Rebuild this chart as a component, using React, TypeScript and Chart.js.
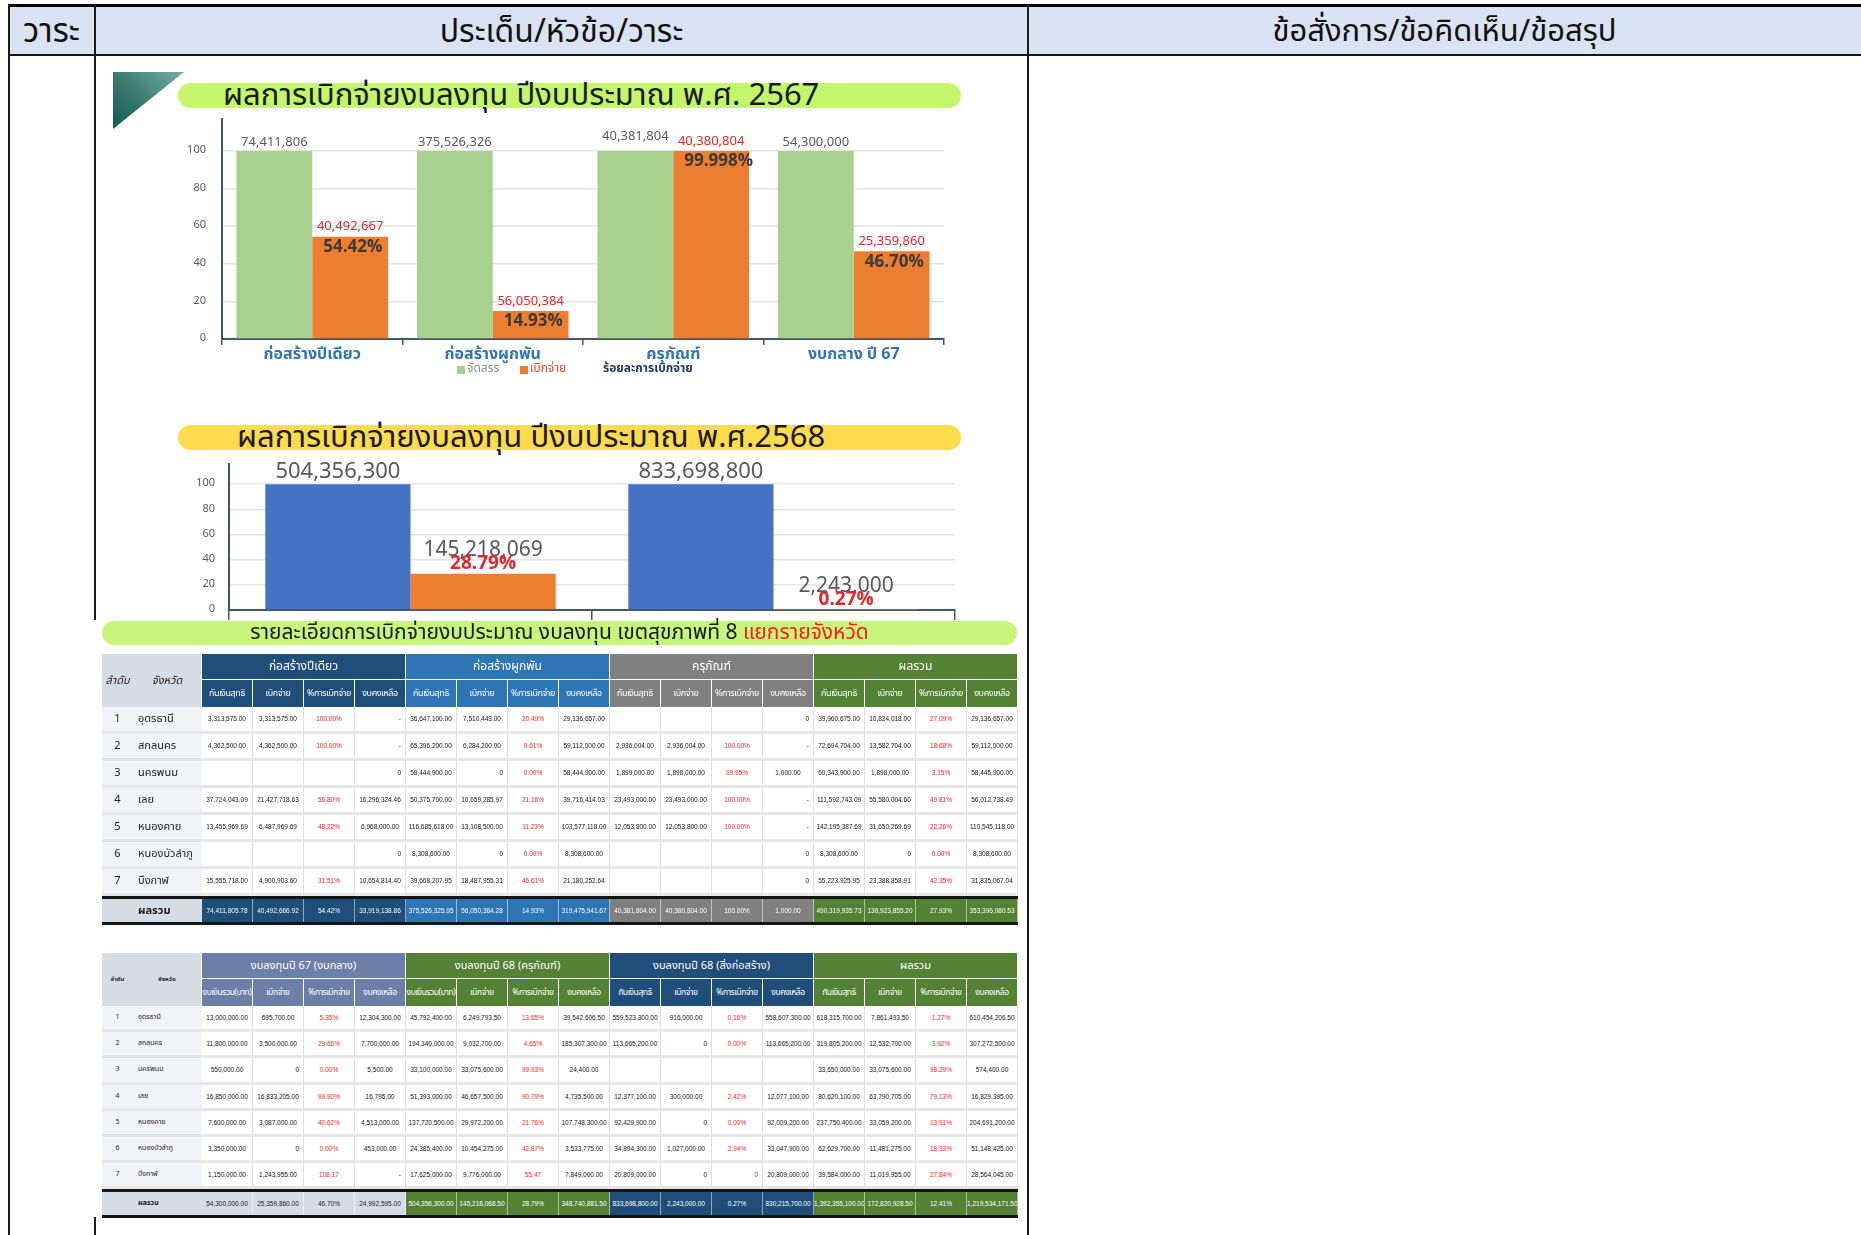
import React, { useEffect, useRef } from 'react';
import { Chart, registerables } from 'chart.js';
Chart.register(...registerables);

const FONT = '"Noto Sans Thai", "Noto Sans", "Liberation Sans", sans-serif';
const NUMFONT = '"Liberation Sans", "Noto Sans", sans-serif';

// ---------- Chart 1 (2567) ----------
const cat2567 = ['ก่อสร้างปีเดียว', 'ก่อสร้างผูกพัน', 'ครุภัณฑ์', 'งบกลาง ปี 67'];
const alloc2567 = [74411806, 375526326, 40381804, 54300000];
const spent2567 = [40492667, 56050384, 40380804, 25359860];
const allocPct2567 = [100, 100, 100, 100];
const spentPct2567 = [54.42, 14.93, 99.998, 46.7];
const spentPctText2567 = ['54.42%', '14.93%', '99.998%', '46.70%'];
const legend2567 = ['จัดสรร', 'เบิกจ่าย', 'ร้อยละการเบิกจ่าย'];
const yTicks = [0, 20, 40, 60, 80, 100];

// ---------- Chart 2 (2568) ----------
const cat2568 = ['ครุภัณฑ์', 'สิ่งก่อสร้าง'];
const alloc2568 = [504356300, 833698800];
const spent2568 = [145218069, 2243000];
const allocPct2568 = [100, 100];
const spentPct2568 = [28.79, 0.27];
const spentPctText2568 = ['28.79%', '0.27%'];

// ---------- Table 1 ----------
const t1Groups = ['ก่อสร้างปีเดียว', 'ก่อสร้างผูกพัน', 'ครุภัณฑ์', 'ผลรวม'];
const t1Subs = ['กันเงินสุทธิ', 'เบิกจ่าย', '%การเบิกจ่าย', 'งบคงเหลือ'];
const provinces = ['อุดรธานี', 'สกลนคร', 'นครพนม', 'เลย', 'หนองคาย', 'หนองบัวลำภู', 'บึงกาฬ'];
const t1Rows = [
  ['3,313,575.00', '3,313,575.00', '100.00%', '-', '36,647,100.00', '7,510,443.00', '20.49%', '29,136,657.00', '', '', '', '0', '39,960,675.00', '10,824,018.00', '27.09%', '29,136,657.00'],
  ['4,362,500.00', '4,362,500.00', '100.00%', '-', '65,396,200.00', '6,284,200.00', '9.61%', '59,112,000.00', '2,936,004.00', '2,936,004.00', '100.00%', '-', '72,694,704.00', '13,582,704.00', '18.68%', '59,112,000.00'],
  ['', '', '', '0', '58,444,900.00', '0', '0.00%', '58,444,900.00', '1,899,000.00', '1,898,000.00', '99.95%', '1,000.00', '60,343,900.00', '1,898,000.00', '3.15%', '58,445,900.00'],
  ['37,724,043.09', '21,427,718.63', '56.80%', '16,296,324.46', '50,375,700.00', '10,659,285.97', '21.16%', '39,716,414.03', '23,493,000.00', '23,493,000.00', '100.00%', '-', '111,592,743.09', '55,580,004.60', '49.81%', '56,012,738.49'],
  ['13,455,969.69', '6,487,969.69', '48.22%', '6,968,000.00', '116,685,618.00', '13,108,500.00', '11.23%', '103,577,118.00', '12,053,800.00', '12,053,800.00', '100.00%', '-', '142,195,387.69', '31,650,269.69', '22.26%', '110,545,118.00'],
  ['', '', '', '0', '8,308,600.00', '0', '0.00%', '8,308,600.00', '', '', '', '0', '8,308,600.00', '0', '0.00%', '8,308,600.00'],
  ['15,555,718.00', '4,900,903.60', '31.51%', '10,654,814.40', '39,668,207.95', '18,487,955.31', '46.61%', '21,180,252.64', '', '', '', '0', '55,223,925.95', '23,388,858.91', '42.35%', '31,835,067.04'],
];
const t1Total = ['74,411,805.78', '40,492,666.92', '54.42%', '33,919,138.86', '375,526,325.95', '56,050,384.28', '14.93%', '319,475,941.67', '40,381,804.00', '40,380,804.00', '100.00%', '1,000.00', '490,319,935.73', '136,923,855.20', '27.93%', '353,396,080.53'];

// ---------- Table 2 ----------
const t2Groups = ['งบลงทุนปี 67 (งบกลาง)', 'งบลงทุนปี 68 (ครุภัณฑ์)', 'งบลงทุนปี 68 (สิ่งก่อสร้าง)', 'ผลรวม'];
const t2SubsA = ['งบเงินรวม(บาท)', 'เบิกจ่าย', '%การเบิกจ่าย', 'งบคงเหลือ'];
const t2SubsB = ['กันเงินสุทธิ', 'เบิกจ่าย', '%การเบิกจ่าย', 'งบคงเหลือ'];
const t2Rows = [
  ['13,000,000.00', '695,700.00', '5.35%', '12,304,300.00', '45,792,400.00', '6,249,793.50', '13.65%', '39,542,606.50', '559,523,300.00', '916,000.00', '0.16%', '558,607,300.00', '618,315,700.00', '7,861,493.50', '1.27%', '610,454,206.50'],
  ['11,800,000.00', '3,500,000.00', '29.66%', '7,700,000.00', '194,340,000.00', '9,032,700.00', '4.65%', '185,307,300.00', '113,665,200.00', '0', '0.00%', '113,665,200.00', '319,805,200.00', '12,532,700.00', '3.92%', '307,272,500.00'],
  ['550,000.00', '0', '0.00%', '5,500.00', '33,100,000.00', '33,075,600.00', '99.93%', '24,400.00', '', '', '', '', '33,650,000.00', '33,075,600.00', '98.29%', '574,400.00'],
  ['16,850,000.00', '16,833,205.00', '99.90%', '16,795.00', '51,393,000.00', '46,657,500.00', '90.79%', '4,735,500.00', '12,377,100.00', '300,000.00', '2.42%', '12,077,100.00', '80,620,100.00', '63,790,705.00', '79.13%', '16,829,395.00'],
  ['7,600,000.00', '3,087,000.00', '40.62%', '4,513,000.00', '137,720,500.00', '29,972,200.00', '21.76%', '107,748,300.00', '92,429,900.00', '0', '0.00%', '92,009,200.00', '237,750,400.00', '33,059,200.00', '13.91%', '204,691,200.00'],
  ['3,350,000.00', '0', '0.00%', '453,000.00', '24,385,400.00', '10,454,275.00', '42.87%', '3,533,775.00', '34,894,300.00', '1,027,000.00', '2.94%', '33,047,900.00', '62,629,700.00', '11,481,275.00', '18.33%', '51,148,425.00'],
  ['1,150,000.00', '1,243,955.00', '108.17', '-', '17,625,000.00', '9,776,000.00', '55.47', '7,849,000.00', '20,809,000.00', '0', '0', '20,809,000.00', '39,584,000.00', '11,019,955.00', '27.84%', '28,564,045.00'],
];
const t2Total = ['54,300,000.00', '25,359,860.00', '46.70%', '24,992,595.00', '504,356,300.00', '145,218,068.50', '28.79%', '348,740,881.50', '833,698,800.00', '2,243,000.00', '0.27%', '830,215,700.00', '1,392,355,100.00', '172,820,928.50', '12.41%', '1,219,534,171.50'];

const fmt = (n: number) => n.toLocaleString('en-US');

const noPad = (s: any) => { s.paddingTop = 0; s.paddingBottom = 0; s.paddingLeft = 0; s.paddingRight = 0; };

const labels1 = {
  id: 'labels1',
  afterDatasetsDraw(chart: any) {
    const ctx = chart.ctx;
    const g = chart.getDatasetMeta(0).data;
    const o = chart.getDatasetMeta(1).data;
    ctx.save();
    ctx.textBaseline = 'middle';
    g.forEach((bar: any, i: number) => {
      const ob = o[i];
      const raise = Math.abs(ob.y - bar.y) < 14 ? 6 : 0;
      ctx.font = `13px ${FONT}`;
      ctx.fillStyle = '#595959';
      ctx.textAlign = 'center';
      ctx.fillText(fmt(alloc2567[i]), bar.x, bar.y - 8 - raise);
      ctx.fillStyle = '#e3262b';
      ctx.fillText(fmt(spent2567[i]), ob.x, ob.y - 9);
      ctx.font = `bold 17px ${FONT}`;
      ctx.fillStyle = '#3a3a3a';
      ctx.textAlign = 'left';
      ctx.fillText(spentPctText2567[i], ob.x - ob.width / 2 + 11, ob.y + 12);
    });
    const L = chart.chartArea.left;
    const y = 260;
    ctx.font = `12px ${FONT}`;
    ctx.fillStyle = '#a9d18e';
    ctx.fillRect(L + 235, y - 4, 8, 8);
    ctx.fillStyle = '#8c8c8c';
    ctx.fillText(legend2567[0], L + 245, y);
    ctx.fillStyle = '#ed7d31';
    ctx.fillRect(L + 298, y - 4, 8, 8);
    ctx.fillStyle = '#e0452a';
    ctx.fillText(legend2567[1], L + 308, y);
    ctx.font = `bold 12px ${FONT}`;
    ctx.fillStyle = '#1f3864';
    ctx.fillText(legend2567[2], L + 381, y);
    ctx.restore();
  },
};

const labels2 = {
  id: 'labels2',
  afterDatasetsDraw(chart: any) {
    const ctx = chart.ctx;
    const g = chart.getDatasetMeta(0).data;
    const o = chart.getDatasetMeta(1).data;
    ctx.save();
    ctx.textBaseline = 'middle';
    ctx.textAlign = 'center';
    g.forEach((bar: any, i: number) => {
      const ob = o[i];
      ctx.font = `22px ${FONT}`;
      ctx.fillStyle = '#595959';
      ctx.fillText(fmt(alloc2568[i]), bar.x, bar.y - 11);
      ctx.font = `21px ${FONT}`;
      ctx.fillText(fmt(spent2568[i]), ob.x, ob.y - 22);
      ctx.font = `bold 19px ${FONT}`;
      ctx.fillStyle = '#e3262b';
      ctx.fillText(spentPctText2568[i], ob.x, ob.y - 9);
    });
    ctx.restore();
  },
};

function Chart2567() {
  const ref = useRef<HTMLCanvasElement>(null);
  useEffect(() => {
    const chart = new Chart(ref.current as HTMLCanvasElement, {
      type: 'bar',
      data: {
        labels: cat2567,
        datasets: [
          { label: legend2567[0], data: allocPct2567, backgroundColor: '#a9d18e', categoryPercentage: 0.84, barPercentage: 1 },
          { label: legend2567[1], data: spentPct2567, backgroundColor: '#ed7d31', categoryPercentage: 0.84, barPercentage: 1 },
        ],
      },
      options: {
        responsive: false,
        animation: false,
        devicePixelRatio: 1,
        layout: { padding: { left: 0, right: 16, top: 9, bottom: 0 } },
        plugins: { legend: { display: false }, tooltip: { enabled: false } },
        scales: {
          x: {
            afterFit: (s: any) => { s.height = 61; noPad(s); },
            grid: { drawOnChartArea: false, drawTicks: true, tickLength: 6, color: '#44546a', lineWidth: 1.5, offset: true },
            border: { color: '#44546a', width: 2 },
            ticks: { color: '#2e75b6', font: { family: FONT, size: 16, weight: 'bold' }, padding: 1 },
          },
          y: {
            min: 0,
            max: 117,
            afterFit: (s: any) => { s.width = 52; noPad(s); },
            afterBuildTicks: (s: any) => { s.ticks = yTicks.map((v) => ({ value: v })); },
            ticks: { color: '#595959', font: { family: FONT, size: 11 }, padding: 16 },
            grid: { color: '#e4e4e4', lineWidth: 1.5, drawTicks: false },
            border: { color: '#44546a', width: 2 },
          },
        },
      } as any,
      plugins: [labels1],
    });
    return () => chart.destroy();
  }, []);
  return <canvas ref={ref} width={790} height={290} style={{ position: 'absolute', left: 170, top: 110 }} />;
}

function Chart2568() {
  const ref = useRef<HTMLCanvasElement>(null);
  useEffect(() => {
    const chart = new Chart(ref.current as HTMLCanvasElement, {
      type: 'bar',
      data: {
        labels: cat2568,
        datasets: [
          { label: 'จัดสรร', data: allocPct2568, backgroundColor: '#4472c4', categoryPercentage: 0.8, barPercentage: 1 },
          { label: 'เบิกจ่าย', data: spentPct2568, backgroundColor: '#ed7d31', categoryPercentage: 0.8, barPercentage: 1 },
        ],
      },
      options: {
        responsive: false,
        animation: false,
        devicePixelRatio: 1,
        layout: { padding: { left: 0, right: 10, top: 8, bottom: 0 } },
        plugins: { legend: { display: false }, tooltip: { enabled: false } },
        scales: {
          x: {
            afterFit: (s: any) => { s.height = 11; noPad(s); },
            grid: { drawOnChartArea: false, drawTicks: true, tickLength: 10, color: '#44546a', lineWidth: 1.5, offset: true },
            border: { color: '#44546a', width: 2 },
            ticks: { display: false },
          },
          y: {
            min: 0,
            max: 116,
            afterFit: (s: any) => { s.width = 54; noPad(s); },
            afterBuildTicks: (s: any) => { s.ticks = yTicks.map((v) => ({ value: v })); },
            ticks: { color: '#595959', font: { family: FONT, size: 11 }, padding: 14 },
            grid: { color: '#e4e4e4', lineWidth: 1.5, drawTicks: false },
            border: { color: '#44546a', width: 2 },
          },
        },
      } as any,
      plugins: [labels2],
    });
    return () => chart.destroy();
  }, []);
  return <canvas ref={ref} width={790} height={165} style={{ position: 'absolute', left: 175, top: 456 }} />;
}

type TP = {
  left: number; top: number; groups: string[]; groupColors: string[]; subs: string[][];
  headLabels: string[]; rows: string[][]; total: string[]; totalColors: string[]; totalText: string[];
  rowH: number; provFont: number; numFont: number; headFont: number; headStyle: any; groupFont: number; subFont: number;
};

function DataTable(p: TP) {
  const W0 = 31, W1 = 69, WC = 51;
  const base: any = { boxSizing: 'border-box', overflow: 'hidden', whiteSpace: 'nowrap', flex: 'none', textAlign: 'center' };
  const ch = p.rowH - 3;
  return (
    <div style={{ position: 'absolute', left: p.left, top: p.top, width: W0 + W1 + 16 * WC, fontFamily: FONT }}>
      <div style={{ display: 'flex', height: 53 }}>
        <div style={{ ...base, width: W0, height: 53, lineHeight: '53px', background: '#d6dce4', color: '#222', fontSize: p.headFont, ...p.headStyle }}>{p.headLabels[0]}</div>
        <div style={{ ...base, width: W1, height: 53, lineHeight: '53px', background: '#d6dce4', color: '#222', fontSize: p.headFont, borderRight: '1px solid #fff', ...p.headStyle }}>{p.headLabels[1]}</div>
        <div style={{ display: 'flex', flexDirection: 'column' }}>
          <div style={{ display: 'flex', height: 26 }}>
            {p.groups.map((g, i) => (
              <div key={i} style={{ ...base, width: 4 * WC, height: 26, lineHeight: '25px', background: p.groupColors[i], color: '#fff', fontSize: p.groupFont, borderRight: '1px solid #fff', borderBottom: '1px solid #fff' }}>{g}</div>
            ))}
          </div>
          <div style={{ display: 'flex', height: 27 }}>
            {p.groups.map((g, i) => p.subs[i].map((s, j) => (
              <div key={i + '-' + j} style={{ ...base, width: WC, height: 27, lineHeight: '27px', background: p.groupColors[i], color: '#fff', fontSize: p.subFont, letterSpacing: -0.4, borderRight: '1px solid #fff' }}>{s}</div>
            )))}
          </div>
        </div>
      </div>
      {p.rows.map((r, ri) => (
        <div key={ri} style={{ display: 'flex', height: p.rowH, borderBottom: '3px solid #e6e6e6', boxSizing: 'border-box' }}>
          <div style={{ ...base, width: W0, height: ch, lineHeight: ch + 'px', background: '#f2f3f6', fontSize: p.provFont, color: '#222' }}>{ri + 1}</div>
          <div style={{ ...base, width: W1, height: ch, lineHeight: ch + 'px', background: '#f2f3f6', fontSize: p.provFont, color: '#222', textAlign: 'left', paddingLeft: 5 }}>{provinces[ri]}</div>
          {r.map((v, ci) => (
            <div key={ci} style={{ ...base, width: WC, height: ch, lineHeight: ch + 'px', borderRight: '1px solid #e0e0e0', fontFamily: NUMFONT, fontSize: p.numFont, color: ci % 4 === 2 ? '#ff1a1a' : '#111', textAlign: v === '0' || v === '-' ? 'right' : 'center', paddingRight: v === '0' || v === '-' ? 4 : 0 }}>{v}</div>
          ))}
        </div>
      ))}
      <div style={{ display: 'flex', height: 29, borderTop: '3px solid #151515', borderBottom: '3px solid #151515', boxSizing: 'border-box' }}>
        <div style={{ ...base, width: W0 + W1, height: 23, lineHeight: '23px', background: '#d6dce4', fontSize: p.provFont, fontWeight: 'bold', color: '#1a1a1a', textAlign: 'left', paddingLeft: W0 + 5 }}>ผลรวม</div>
        {p.total.map((v, ci) => (
          <div key={ci} style={{ ...base, width: WC, height: 23, lineHeight: '23px', background: p.totalColors[Math.floor(ci / 4)], color: p.totalText[Math.floor(ci / 4)], borderRight: '1px solid rgba(255,255,255,0.5)', fontFamily: NUMFONT, fontSize: p.numFont }}>{v}</div>
        ))}
      </div>
    </div>
  );
}

const hdr = (l: number, r: number, fs: number): any => ({
  position: 'absolute', left: l, width: r - l, top: 8, height: 48, lineHeight: '48px', textAlign: 'center', fontSize: fs, color: '#111', fontFamily: FONT, whiteSpace: 'nowrap',
});

const vline = (x: number, y1: number, y2: number, w = 2): any => ({
  position: 'absolute', left: x - w / 2, top: y1, width: w, height: y2 - y1, background: '#1a1a1a',
});

const pill: any = { position: 'absolute', boxSizing: 'border-box', color: '#1a1a1a', whiteSpace: 'nowrap' };

export default function App() {
  return (
    <div style={{ position: 'absolute', left: 0, top: 0, width: 1861, height: 1235, overflow: 'hidden', background: '#fff', fontFamily: FONT }}>
      <div style={{ position: 'absolute', left: 8, top: 4, width: 1853, height: 52, background: '#dae3f3', borderTop: '3px solid #000', borderBottom: '2px solid #1a1a1a', boxSizing: 'border-box' }} />
      <div style={hdr(8, 95, 33)}>วาระ</div>
      <div style={hdr(95, 1028, 32)}>ประเด็น/หัวข้อ/วาระ</div>
      <div style={hdr(1028, 1861, 31)}>ข้อสั่งการ/ข้อคิดเห็น/ข้อสรุป</div>
      <div style={vline(9, 4, 1235, 2)} />
      <div style={vline(95, 4, 620, 1.5)} />
      <div style={vline(95, 1217, 1235, 1.5)} />
      <div style={vline(1028, 4, 1235, 1.5)} />

      <div style={{ position: 'absolute', left: 113, top: 72, width: 71, height: 57, clipPath: 'polygon(0 0, 100% 0, 0 100%)', background: 'linear-gradient(45deg, #145a52 0%, #3f7f76 50%, #79aea5 100%)' }} />
      <div style={{ ...pill, left: 178, top: 83, width: 783, height: 25, borderRadius: 13, background: '#c4f66c', paddingLeft: 45, fontSize: 31, lineHeight: '25px' }}>ผลการเบิกจ่ายงบลงทุน ปีงบประมาณ พ.ศ. 2567</div>
      <Chart2567 />

      <div style={{ ...pill, left: 178, top: 425, width: 783, height: 25, borderRadius: 13, background: '#ffdc4e', paddingLeft: 59, fontSize: 31, lineHeight: '25px' }}>ผลการเบิกจ่ายงบลงทุน ปีงบประมาณ พ.ศ.2568</div>
      <Chart2568 />

      <div style={{ ...pill, left: 102, top: 621, width: 915, height: 24, borderRadius: 12, background: '#c6f47c', textAlign: 'center', fontSize: 21, lineHeight: '24px' }}>
        รายละเอียดการเบิกจ่ายงบประมาณ งบลงทุน เขตสุขภาพที่ 8 <span style={{ color: '#ff1a1a' }}>แยกรายจังหวัด</span>
      </div>

      <DataTable
        left={102} top={654}
        groups={t1Groups}
        groupColors={['#1f4e79', '#2e75b6', '#808080', '#548235']}
        subs={[t1Subs, t1Subs, t1Subs, t1Subs]}
        headLabels={['ลำดับ', 'จังหวัด']}
        rows={t1Rows} total={t1Total}
        totalColors={['#1f4e79', '#2e75b6', '#808080', '#548235']}
        totalText={['#fff', '#fff', '#fff', '#fff']}
        rowH={27} provFont={11} numFont={6.5} headFont={11} headStyle={{ fontStyle: 'italic' }} groupFont={12} subFont={9}
      />
      <DataTable
        left={102} top={953}
        groups={t2Groups}
        groupColors={['#6b7fa8', '#548235', '#1f4e79', '#548235']}
        subs={[t2SubsA, t2SubsA, t2SubsB, t2SubsB]}
        headLabels={['ลำดับ', 'จังหวัด']}
        rows={t2Rows} total={t2Total}
        totalColors={['#d6dce4', '#548235', '#1f4e79', '#548235']}
        totalText={['#1a1a1a', '#fff', '#fff', '#fff']}
        rowH={26.2} provFont={7} numFont={6.5} headFont={6} headStyle={{ fontWeight: 'bold' }} groupFont={11} subFont={8.5}
      />
    </div>
  );
}
